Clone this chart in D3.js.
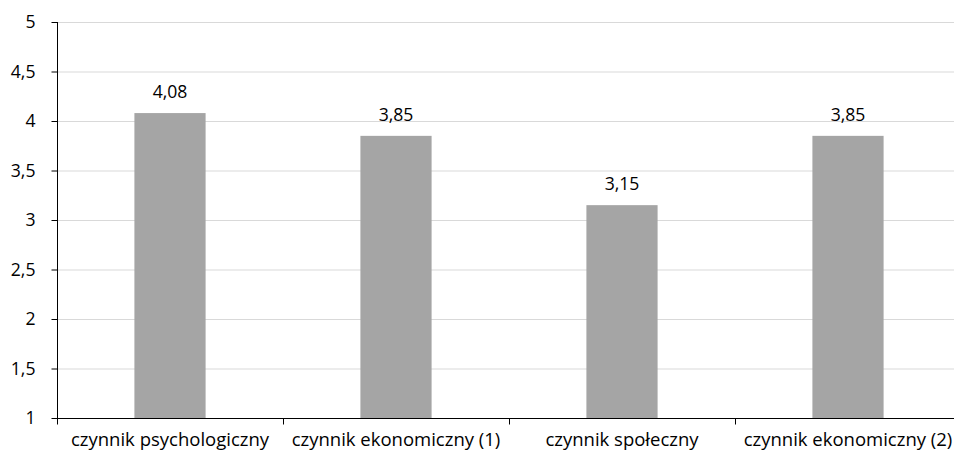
<!DOCTYPE html>
<html>
<head>
<meta charset="utf-8">
<script src="https://cdn.jsdelivr.net/npm/d3@7"></script>
<style>
  html, body { margin: 0; padding: 0; background: #fff; }
  svg { display: block; font-family: "Open Sans", "Noto Sans", sans-serif; }
</style>
</head>
<body>
<svg id="chart" width="954" height="451"></svg>
<script>
// Mean scores per factor
const categories = ["czynnik psychologiczny", "czynnik ekonomiczny (1)", "czynnik społeczny", "czynnik ekonomiczny (2)"];
const values = [4.08, 3.85, 3.15, 3.85];
const yTicks = [1, 1.5, 2, 2.5, 3, 3.5, 4, 4.5, 5];

const svg = d3.select("#chart");
const plotLeft = 57, plotRight = 961, plotTop = 22, plotBottom = 418;
const fontSize = 17.6;
const catFontSize = 18.5;

const x = d3.scaleBand().domain(categories).range([plotLeft, plotRight]).paddingInner(0.685).paddingOuter(0.3425);
const xOuter = d3.scaleBand().domain(categories).range([plotLeft, plotRight]);
const y = d3.scaleLinear().domain([1, 5]).range([plotBottom, plotTop]);

const fmt = v => String(v).replace(".", ",");

// horizontal gridlines
svg.append("g").selectAll("line").data(yTicks.filter(t => t > 1)).join("line")
  .attr("x1", plotLeft).attr("x2", plotRight)
  .attr("y1", d => y(d) + 0.5).attr("y2", d => y(d) + 0.5)
  .attr("stroke", "#d9d9d9").attr("stroke-width", 1);

// bars
svg.append("g").selectAll("rect").data(values).join("rect")
  .attr("x", (d, i) => x(categories[i]))
  .attr("width", x.bandwidth())
  .attr("y", d => y(d))
  .attr("height", d => y(1) - y(d))
  .attr("fill", "#a5a5a5");

// value labels
svg.append("g").selectAll("text").data(values).join("text")
  .attr("x", (d, i) => x(categories[i]) + x.bandwidth() / 2)
  .attr("y", d => y(d) - 15)
  .attr("text-anchor", "middle")
  .attr("font-size", fontSize)
  .attr("fill", "#000")
  .text(d => fmt(d.toFixed(2)));

// y axis
const yAxis = d3.axisLeft(y).tickValues(yTicks).tickSize(6).tickPadding(16)
  .tickFormat(d => fmt(d));
const gy = svg.append("g").attr("transform", `translate(${plotLeft + 0.5},0)`).call(yAxis);
gy.select(".domain").attr("stroke", "#000").attr("d", `M0,${plotTop}V${plotBottom}`);
gy.selectAll(".tick line").attr("stroke", "#000");
gy.selectAll(".tick text").attr("font-size", fontSize).attr("fill", "#000")
  .attr("font-family", "'Open Sans', sans-serif").attr("dy", "0.34em");

// x axis with ticks at category boundaries
const gx = svg.append("g").attr("transform", `translate(0,${plotBottom + 0.5})`);
gx.append("line").attr("x1", plotLeft).attr("x2", plotRight).attr("stroke", "#000");
gx.selectAll("line.t").data(categories).join("line").attr("class", "t")
  .attr("x1", d => xOuter(d) + 0.5).attr("x2", d => xOuter(d) + 0.5)
  .attr("y1", 0).attr("y2", 6).attr("stroke", "#000");
gx.selectAll("text").data(categories).join("text")
  .attr("x", d => xOuter(d) + xOuter.bandwidth() / 2)
  .attr("y", 27)
  .attr("text-anchor", "middle")
  .attr("font-size", catFontSize)
  .attr("fill", "#000")
  .text(d => d);
</script>
</body>
</html>
